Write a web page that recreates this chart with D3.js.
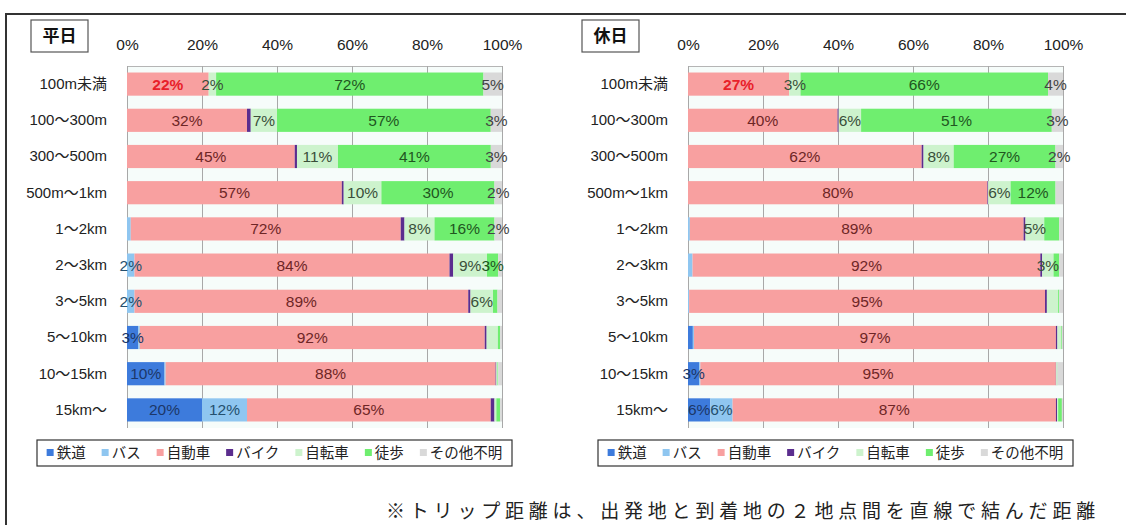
<!DOCTYPE html>
<html>
<head>
<meta charset="utf-8">
<script src="https://cdn.jsdelivr.net/npm/d3@7"></script>
<style>
body { margin: 0; background: #fff; }
text { font-family: "Liberation Sans", Arial, "Noto Sans CJK JP", sans-serif; }
</style>
</head>
<body>
<div id="chart"></div>
<script>
// categories / series
var categories = ["100m未満", "100〜300m", "300〜500m", "500m〜1km", "1〜2km", "2〜3km", "3〜5km", "5〜10km", "10〜15km", "15km〜"];
var modes = ["鉄道", "バス", "自動車", "バイク", "自転車", "徒歩", "その他不明"];
var modeColors = ["#3d7bdc", "#8fc6f0", "#f8a0a0", "#5b2d8e", "#cdf3cd", "#6fee6f", "#d9d9d9"];
var labelColors = ["#1c3768", "#24506e", "#6e2626", "#2a1a40", "#3a4f3a", "#21561f", "#444444"];
var tickValues = [0, 0.2, 0.4, 0.6, 0.8, 1];

// 平日 (percent, one value per category)
var weekdayRail    = [0, 0, 0, 0, 0, 0, 0, 3, 10, 20];
var weekdayBus     = [0, 0, 0, 0, 1, 2, 2, 0.4, 0.3, 12];
var weekdayCar     = [22, 32, 45, 57, 72, 84, 89, 92, 88, 65];
var weekdayBike    = [0, 1, 0.6, 0.5, 1, 1, 0.6, 0.5, 0.2, 1];
var weekdayCycle   = [2, 7, 11, 10, 8, 9, 6, 3, 0.3, 0.5];
var weekdayWalk    = [72, 57, 41, 30, 16, 3, 1.2, 0.6, 0.2, 1];
var weekdayOther   = [5, 3, 3, 2, 2, 1, 1.2, 0.5, 1, 0.5];

// 休日
var holidayRail    = [0, 0, 0, 0, 0, 0, 0, 1.3, 3, 6];
var holidayBus     = [0, 0, 0, 0, 0.5, 1.2, 0.3, 0.3, 0.3, 6];
var holidayCar     = [27, 40, 62, 80, 89, 92, 95, 97, 95, 87];
var holidayBike    = [0, 0.3, 0.5, 0.2, 0.5, 0.5, 0.5, 0.4, 0.1, 0.3];
var holidayCycle   = [3, 6, 8, 6, 5, 3, 3, 1, 0.2, 0.3];
var holidayWalk    = [66, 51, 27, 12, 4, 1.5, 0.3, 0.2, 0.1, 1];
var holidayOther   = [4, 3, 2, 2, 1, 1, 1, 0.3, 1.5, 0.3];

// labels that the original leaves off: [category, mode]
var weekdayNoLabel = [["5〜10km", "自転車"]];
var holidayNoLabel = [["500m〜1km", "その他不明"], ["1〜2km", "徒歩"], ["3〜5km", "自転車"]];
var highlightLabel = ["100m未満", "自動車"];

var footnote = "※トリップ距離は、出発地と到着地の２地点間を直線で結んだ距離";

// STEP 1: SET UP THE CANVAS
var svgWidth = 1126;
var svgHeight = 525;
var plotWidth = 375;
var plotTop = 66;
var plotBottom = 428;

var svg = d3.select("#chart")
    .append("svg")
    .attr("width", svgWidth)
    .attr("height", svgHeight);

// outer frame (top + left edge)
svg.append("path")
    .attr("d", "M6," + svgHeight + "V14H" + svgWidth)
    .attr("fill", "none")
    .attr("stroke", "#333")
    .attr("stroke-width", 2);

drawPanel({
    title: "平日",
    titleX: 31,
    left: 127,
    legendX: 37,
    values: [weekdayRail, weekdayBus, weekdayCar, weekdayBike, weekdayCycle, weekdayWalk, weekdayOther],
    noLabel: weekdayNoLabel
});

drawPanel({
    title: "休日",
    titleX: 582,
    left: 688,
    legendX: 598,
    values: [holidayRail, holidayBus, holidayCar, holidayBike, holidayCycle, holidayWalk, holidayOther],
    noLabel: holidayNoLabel
});

svg.append("text")
    .attr("x", 386)
    .attr("y", 518)
    .attr("font-size", 19)
    .attr("letter-spacing", 4.8)
    .style("font-family", "'Noto Sans CJK JP', sans-serif")
    .attr("fill", "#222")
    .text(footnote);

function drawPanel(p) {
    var g = svg.append("g");

    // STEP 2: PREPARE THE DATA
    var rows = categories.map(function(c, i) {
        var row = { category: c };
        modes.forEach(function(m, j) { row[m] = p.values[j][i]; });
        return row;
    });
    var series = d3.stack()
        .keys(modes)
        .offset(d3.stackOffsetExpand)(rows);

    // STEP 3: SCALES
    var xScale = d3.scaleLinear()
        .domain([0, 1])
        .range([p.left, p.left + plotWidth]);

    var yScale = d3.scaleBand()
        .domain(categories)
        .range([plotTop, plotBottom])
        .paddingInner(0.36)
        .paddingOuter(0.18);

    // plot background
    g.append("rect")
        .attr("x", xScale(0))
        .attr("y", plotTop)
        .attr("width", plotWidth)
        .attr("height", plotBottom - plotTop)
        .attr("fill", "#f6fcfa");

    // STEP 4: AXES (gridlines + percent labels on top)
    var topAxis = d3.axisTop(xScale)
        .tickValues(tickValues)
        .tickFormat(d3.format(".0%"))
        .tickSize(-(plotBottom - plotTop))
        .tickPadding(16);

    var axisG = g.append("g")
        .attr("transform", "translate(0," + plotTop + ")")
        .call(topAxis);
    axisG.select(".domain").attr("stroke", "#b5b5b5");
    axisG.selectAll(".tick line").attr("stroke", "#a8a8a8");
    axisG.selectAll(".tick text")
        .attr("font-size", 15.5)
        .attr("fill", "#222")
        .style("font-family", "'Liberation Sans', Arial, sans-serif");

    var leftAxis = d3.axisLeft(yScale).tickSize(0).tickPadding(20);
    var catG = g.append("g")
        .attr("transform", "translate(" + xScale(0) + ",0)")
        .call(leftAxis);
    catG.select(".domain").remove();
    catG.selectAll(".tick text")
        .attr("font-size", 15)
        .attr("fill", "#222")
        .style("font-family", "'Liberation Sans', Arial, 'Noto Sans CJK JP', sans-serif");

    // STEP 5: BARS
    var layers = g.selectAll(".layer")
        .data(series)
        .enter()
        .append("g")
        .attr("class", "layer")
        .attr("fill", function(d, i) { return modeColors[i]; });

    layers.selectAll("rect")
        .data(function(d) { return d; })
        .enter()
        .append("rect")
        .attr("x", function(d) { return xScale(d[0]); })
        .attr("y", function(d) { return yScale(d.data.category); })
        .attr("width", function(d) { return xScale(d[1]) - xScale(d[0]); })
        .attr("height", yScale.bandwidth());

    // STEP 6: DATA LABELS
    var hidden = p.noLabel.map(function(d) { return d.join("|"); });
    series.forEach(function(s, j) {
        var key = s.key;
        g.selectAll(".lbl" + j)
            .data(s.filter(function(d) {
                var v = d.data[key];
                return v >= 2 && hidden.indexOf(d.data.category + "|" + key) < 0;
            }))
            .enter()
            .append("text")
            .attr("x", function(d) { return xScale((d[0] + d[1]) / 2); })
            .attr("y", function(d) { return yScale(d.data.category) + yScale.bandwidth() / 2; })
            .attr("dy", "0.36em")
            .attr("text-anchor", "middle")
            .attr("font-size", 15.5)
            .attr("font-weight", function(d) {
                return (d.data.category == highlightLabel[0] && key == highlightLabel[1]) ? "bold" : "normal";
            })
            .attr("fill", function(d) {
                return (d.data.category == highlightLabel[0] && key == highlightLabel[1]) ? "#e8202a" : labelColors[j];
            })
            .text(function(d) { return Math.round(d.data[key]) + "%"; });
    });

    // title box
    g.append("rect")
        .attr("x", p.titleX)
        .attr("y", 20)
        .attr("width", 57)
        .attr("height", 32)
        .attr("fill", "#fff")
        .attr("stroke", "#555")
        .attr("stroke-width", 1.2);
    g.append("text")
        .attr("x", p.titleX + 28.5)
        .attr("y", 42)
        .attr("text-anchor", "middle")
        .attr("font-size", 17)
        .attr("font-weight", "bold")
        .style("font-family", "'Noto Sans CJK JP', sans-serif")
        .attr("fill", "#111")
        .text(p.title);

    // STEP 7: LEGEND
    var legend = g.append("g")
        .attr("transform", "translate(" + p.legendX + ",440)");
    legend.append("rect")
        .attr("width", 475)
        .attr("height", 26)
        .attr("fill", "#fff")
        .attr("stroke", "#333")
        .attr("stroke-width", 1.2);

    var items = legend.append("g");
    var cursor = 0;
    modes.forEach(function(m, i) {
        var item = items.append("g").attr("transform", "translate(" + cursor + ",0)");
        item.append("rect")
            .attr("x", 0)
            .attr("y", 9)
            .attr("width", 7)
            .attr("height", 7)
            .attr("fill", modeColors[i]);
        var t = item.append("text")
            .attr("x", 10)
            .attr("y", 13)
            .attr("dy", "0.36em")
            .attr("font-size", 14.5)
            .style("font-family", "'Noto Sans CJK JP', sans-serif")
            .attr("fill", "#222")
            .text(m);
        cursor += 10 + t.node().getComputedTextLength() + 16;
    });
    var itemsWidth = cursor - 16;
    items.attr("transform", "translate(" + ((475 - itemsWidth) / 2) + ",0)");
}
</script>
</body>
</html>
